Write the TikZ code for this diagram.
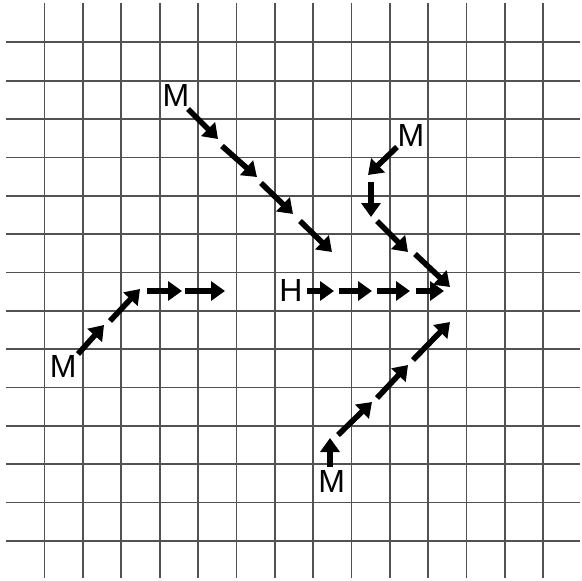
\documentclass[tikz,border=0pt]{standalone}
\usepackage{fontspec}
\setmainfont{Liberation Sans}
\usetikzlibrary{arrows.meta}
\tikzset{
  gridline/.style={draw=black!68, line width=1.7pt},
  dasharrow/.style={draw=black, line width=5.6pt, -{Triangle[length=14pt,width=19pt]}},
  lbl/.style={inner sep=0pt, font=\fontsize{32}{32}\selectfont}
}
\begin{document}
\begin{tikzpicture}[x=1pt,y=-1pt]
\useasboundingbox (0,0) rectangle (582,581);
\fill[white] (0,0) rectangle (582,581);
% grid
\foreach \k in {0,...,13}{
  \draw[gridline] ({44.6+38.35*\k},3) -- ({44.6+38.35*\k},578);
  \draw[gridline] (6,{42.3+38.35*\k}) -- (580,{42.3+38.35*\k});
}
% labels
\node[lbl] (mtop) at (176,95) {M};
\node[lbl] (mright) at (411,135.5) {M};
\node[lbl] (h) at (291,290) {H};
\node[lbl] (mbottom) at (331.7,481.5) {M};
\node[lbl] (mleft) at (63.3,366) {M};
% chain from top M
\coordinate (a1s) at (188,109); \coordinate (a1e) at (218,139);
\coordinate (a2s) at (222,146); \coordinate (a2e) at (257,177);
\coordinate (a3s) at (261,183); \coordinate (a3e) at (293,214);
\coordinate (a4s) at (300,221); \coordinate (a4e) at (332,252);
\draw[dasharrow] (a1s) -- (a1e);
\draw[dasharrow] (a2s) -- (a2e);
\draw[dasharrow] (a3s) -- (a3e);
\draw[dasharrow] (a4s) -- (a4e);
% chain from right M
\coordinate (b1s) at (397,147); \coordinate (b1e) at (368,175);
\coordinate (b2s) at (371,182); \coordinate (b2e) at (371,217);
\coordinate (b3s) at (377,221); \coordinate (b3e) at (408,252);
\coordinate (b4s) at (415,254); \coordinate (b4e) at (450,287);
\draw[dasharrow] (b1s) -- (b1e);
\draw[dasharrow] (b2s) -- (b2e);
\draw[dasharrow] (b3s) -- (b3e);
\draw[dasharrow] (b4s) -- (b4e);
% chain from H
\coordinate (c1s) at (307,291); \coordinate (c1e) at (334,291);
\coordinate (c2s) at (339,291); \coordinate (c2e) at (372,291);
\coordinate (c3s) at (377,291); \coordinate (c3e) at (410,291);
\coordinate (c4s) at (416,291); \coordinate (c4e) at (444,291);
\draw[dasharrow] (c1s) -- (c1e);
\draw[dasharrow] (c2s) -- (c2e);
\draw[dasharrow] (c3s) -- (c3e);
\draw[dasharrow] (c4s) -- (c4e);
% chain from bottom M
\coordinate (d1s) at (330,467); \coordinate (d1e) at (330,438);
\coordinate (d2s) at (338,435); \coordinate (d2e) at (372,402);
\coordinate (d3s) at (377,398); \coordinate (d3e) at (408,365);
\coordinate (d4s) at (413,360); \coordinate (d4e) at (450,322);
\draw[dasharrow] (d1s) -- (d1e);
\draw[dasharrow] (d2s) -- (d2e);
\draw[dasharrow] (d3s) -- (d3e);
\draw[dasharrow] (d4s) -- (d4e);
% chain from left M
\coordinate (e1s) at (78,354); \coordinate (e1e) at (104,325);
\coordinate (e2s) at (110,321); \coordinate (e2e) at (140,289);
\coordinate (e3s) at (147,291); \coordinate (e3e) at (182,291);
\coordinate (e4s) at (185,291); \coordinate (e4e) at (225,291);
\draw[dasharrow] (e1s) -- (e1e);
\draw[dasharrow] (e2s) -- (e2e);
\draw[dasharrow] (e3s) -- (e3e);
\draw[dasharrow] (e4s) -- (e4e);
\end{tikzpicture}
\end{document}
